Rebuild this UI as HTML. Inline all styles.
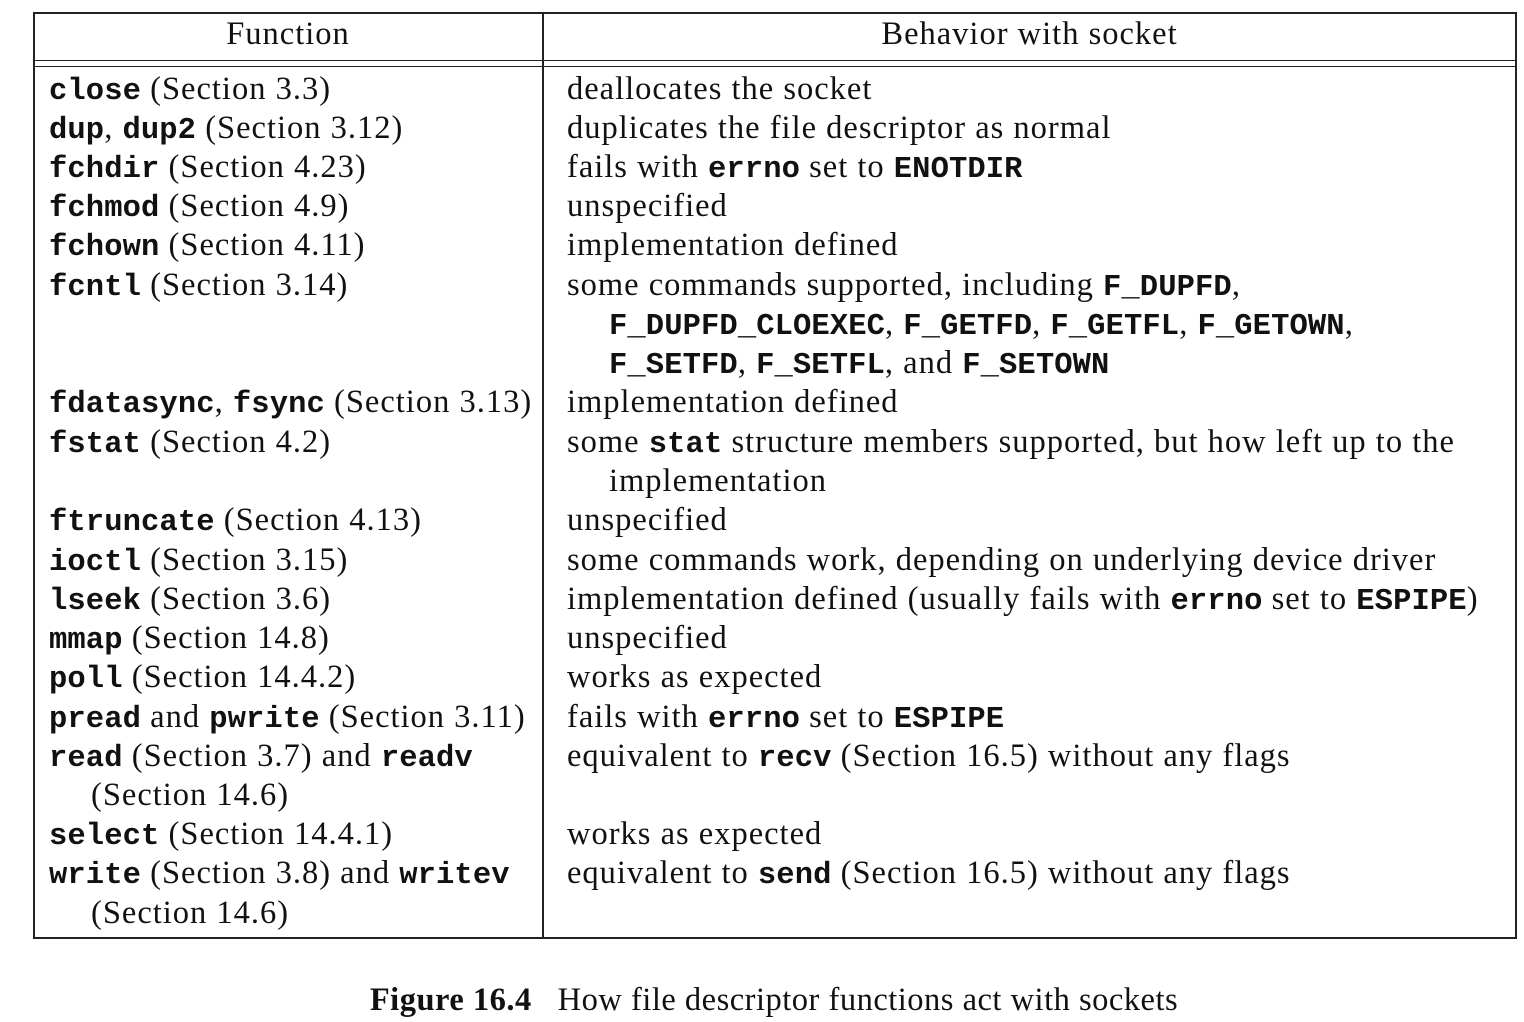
<!DOCTYPE html>
<html><head><meta charset="utf-8"><style>
body{margin:0;width:1524px;height:1022px;background:#fff;position:relative;overflow:hidden;font-family:"Liberation Serif",serif;font-size:32.5px;color:#111}
.l{position:absolute;white-space:nowrap;line-height:38px;letter-spacing:1px}
code{font-family:"Liberation Mono",monospace;font-weight:bold;font-size:30.5px;letter-spacing:0.1px}
.b{position:absolute;background:#222}
</style></head><body>
<div>
<div class="b" style="left:33px;top:12px;width:1484px;height:1.5px"></div>
<div class="b" style="left:33px;top:937px;width:1484px;height:1.5px"></div>
<div class="b" style="left:33px;top:12px;width:1.5px;height:926px"></div>
<div class="b" style="left:1515px;top:12px;width:1.5px;height:926px"></div>
<div class="b" style="left:542px;top:12px;width:1.5px;height:926px"></div>
<div class="b" style="left:33px;top:60px;width:1484px;height:1.3px"></div>
<div class="b" style="left:33px;top:66px;width:1484px;height:1.3px"></div>
<div class="l" style="left:33px;width:510px;text-align:center;top:15px">Function</div>
<div class="l" style="left:543px;width:973px;text-align:center;top:15px">Behavior with socket</div>
</div>
<div>
<div class="l" style="left:49px;top:70px"><code>close</code> (Section 3.3)</div>
<div class="l" style="left:567px;top:70px">deallocates the socket</div>
<div class="l" style="left:49px;top:109px"><code>dup</code>, <code>dup2</code> (Section 3.12)</div>
<div class="l" style="left:567px;top:109px">duplicates the file descriptor as normal</div>
<div class="l" style="left:49px;top:148px"><code>fchdir</code> (Section 4.23)</div>
<div class="l" style="left:567px;top:148px">fails with <code>errno</code> set to <code>ENOTDIR</code></div>
<div class="l" style="left:49px;top:187px"><code>fchmod</code> (Section 4.9)</div>
<div class="l" style="left:567px;top:187px">unspecified</div>
<div class="l" style="left:49px;top:226px"><code>fchown</code> (Section 4.11)</div>
<div class="l" style="left:567px;top:226px">implementation defined</div>
<div class="l" style="left:49px;top:266px"><code>fcntl</code> (Section 3.14)</div>
<div class="l" style="left:567px;top:266px">some commands supported, including <code>F_DUPFD</code>,</div>
<div class="l" style="left:609px;top:305px"><code>F_DUPFD_CLOEXEC</code>, <code>F_GETFD</code>, <code>F_GETFL</code>, <code>F_GETOWN</code>,</div>
<div class="l" style="left:609px;top:344px"><code>F_SETFD</code>, <code>F_SETFL</code>, and <code>F_SETOWN</code></div>
<div class="l" style="left:49px;top:383px"><code>fdatasync</code>, <code>fsync</code> (Section 3.13)</div>
<div class="l" style="left:567px;top:383px">implementation defined</div>
<div class="l" style="left:49px;top:423px"><code>fstat</code> (Section 4.2)</div>
<div class="l" style="left:567px;top:423px">some <code>stat</code> structure members supported, but how left up to the</div>
<div class="l" style="left:609px;top:462px">implementation</div>
<div class="l" style="left:49px;top:501px"><code>ftruncate</code> (Section 4.13)</div>
<div class="l" style="left:567px;top:501px">unspecified</div>
<div class="l" style="left:49px;top:541px"><code>ioctl</code> (Section 3.15)</div>
<div class="l" style="left:567px;top:541px">some commands work, depending on underlying device driver</div>
<div class="l" style="left:49px;top:580px"><code>lseek</code> (Section 3.6)</div>
<div class="l" style="left:567px;top:580px">implementation defined (usually fails with <code>errno</code> set to <code>ESPIPE</code>)</div>
<div class="l" style="left:49px;top:619px"><code>mmap</code> (Section 14.8)</div>
<div class="l" style="left:567px;top:619px">unspecified</div>
<div class="l" style="left:49px;top:658px"><code>poll</code> (Section 14.4.2)</div>
<div class="l" style="left:567px;top:658px">works as expected</div>
<div class="l" style="left:49px;top:698px"><code>pread</code> and <code>pwrite</code> (Section 3.11)</div>
<div class="l" style="left:567px;top:698px">fails with <code>errno</code> set to <code>ESPIPE</code></div>
<div class="l" style="left:49px;top:737px"><code>read</code> (Section 3.7) and <code>readv</code></div>
<div class="l" style="left:567px;top:737px">equivalent to <code>recv</code> (Section 16.5) without any flags</div>
<div class="l" style="left:91px;top:776px">(Section 14.6)</div>
<div class="l" style="left:49px;top:815px"><code>select</code> (Section 14.4.1)</div>
<div class="l" style="left:567px;top:815px">works as expected</div>
<div class="l" style="left:49px;top:854px"><code>write</code> (Section 3.8) and <code>writev</code></div>
<div class="l" style="left:567px;top:854px">equivalent to <code>send</code> (Section 16.5) without any flags</div>
<div class="l" style="left:91px;top:894px">(Section 14.6)</div>
</div>
<div class="l" style="left:0;width:1548px;text-align:center;top:981px;letter-spacing:0.5px"><b>Figure 16.4</b>&nbsp;&nbsp; How file descriptor functions act with sockets</div>
</body></html>
